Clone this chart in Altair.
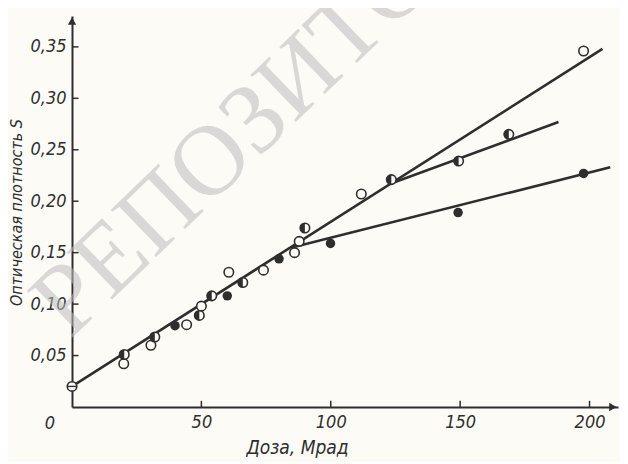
import altair as alt
import pandas as pd

# ---- data ----
open_x = [20, 30.5, 44.3, 50, 60.6, 74, 86, 87.8, 111.8, 197.7]
open_y = [0.042, 0.060, 0.080, 0.098, 0.131, 0.133, 0.150, 0.161, 0.207, 0.346]
half_x = [20.2, 32, 49.2, 54, 66, 90, 123.4, 149.4, 168.8]
half_y = [0.051, 0.068, 0.089, 0.108, 0.121, 0.174, 0.221, 0.239, 0.265]
filled_x = [39.8, 60, 80, 99.9, 149.2, 197.7]
filled_y = [0.079, 0.108, 0.144, 0.159, 0.189, 0.227]
cross_x = [0]
cross_y = [0.020]

line_seg = ["main", "main", "mid", "mid", "low", "low"]
line_x = [0, 205, 123, 188, 85, 208]
line_y = [0.020, 0.348, 0.217, 0.277, 0.155, 0.233]

x_ticks = [50, 100, 150, 200]
y_ticks = [0.05, 0.10, 0.15, 0.20, 0.25, 0.30, 0.35]

x_title = "Доза, Мрад"
y_title = "Оптическая плотность S"
watermark = "РЕПОЗИТОРИЙ"

# ---- style ----
INK = "#2e2e2e"
BG = "#fcfbf6"
FONT = "Liberation Sans Narrow, DejaVu Sans Condensed, sans-serif"
XMAX, YMAX = 211, 0.38

xs = alt.Scale(domain=[0, XMAX], nice=False, zero=False)
ys = alt.Scale(domain=[0, YMAX], nice=False, zero=False)

x_axis = alt.Axis(values=x_ticks, ticks=False, grid=False, domainColor=INK, domainWidth=2,
                  labelFont=FONT, labelFontStyle="italic", labelFontSize=18, labelColor=INK,
                  labelPadding=6, title=x_title, titleFont=FONT, titleFontStyle="italic",
                  titleFontWeight="normal", titleFontSize=19, titleColor=INK,
                  titleX=225, titleY=31, titleBaseline="top", titleAlign="center")
y_axis = alt.Axis(values=y_ticks, ticks=False, grid=False, domainColor=INK, domainWidth=2,
                  labelFont=FONT, labelFontStyle="italic", labelFontSize=18, labelColor=INK,
                  labelPadding=6,
                  labelExpr="replace(format(datum.value, '.2f'), '.', ',')",
                  title=y_title, titleFont=FONT, titleFontStyle="italic",
                  titleFontWeight="normal", titleFontSize=16, titleColor=INK,
                  titleX=-48, titleY=196, titleBaseline="bottom", titleAlign="center", titleAngle=270)

wm = alt.Chart(pd.DataFrame({"x": [-0.8], "y": [0.065], "t": [watermark]})).mark_text(
    font="Liberation Serif", fontSize=100, angle=316, align="left", baseline="alphabetic",
    color="#bdbdbd", opacity=0.55).encode(
    x=alt.X("x:Q", scale=xs, axis=x_axis), y=alt.Y("y:Q", scale=ys, axis=y_axis), text="t:N")

lines_df = pd.DataFrame({"seg": line_seg, "x": line_x, "y": line_y})
lines = alt.Chart(lines_df).mark_line(color=INK, strokeWidth=2.6).encode(
    x=alt.X("x:Q", scale=xs), y=alt.Y("y:Q", scale=ys), detail="seg:N")

yt_df = pd.DataFrame({"y": y_ticks, "x0": [0] * len(y_ticks), "x1": [2.5] * len(y_ticks)})
yt = alt.Chart(yt_df).mark_rule(color=INK, strokeWidth=1.5).encode(
    x=alt.X("x0:Q", scale=xs), x2="x1:Q", y=alt.Y("y:Q", scale=ys))
xt_df = pd.DataFrame({"x": x_ticks, "y0": [0] * len(x_ticks), "y1": [0.006] * len(x_ticks)})
xt = alt.Chart(xt_df).mark_rule(color=INK, strokeWidth=1.5).encode(
    x=alt.X("x:Q", scale=xs), y=alt.Y("y0:Q", scale=ys), y2="y1:Q")

arrows_df = pd.DataFrame({"x": [0, XMAX - 2], "y": [YMAX - 0.005, 0],
                          "s": ["triangle-up", "triangle-right"]})
arrows = alt.Chart(arrows_df).mark_point(filled=True, color=INK, size=70, opacity=1).encode(
    x=alt.X("x:Q", scale=xs), y=alt.Y("y:Q", scale=ys),
    shape=alt.Shape("s:N", scale=None))

zero = alt.Chart(pd.DataFrame({"x": [0], "y": [0], "t": ["0"]})).mark_text(
    font=FONT, fontStyle="italic", fontSize=18, color=INK, dx=-22, dy=17).encode(
    x=alt.X("x:Q", scale=xs), y=alt.Y("y:Q", scale=ys), text="t:N")

SIZE = 90
open_df = pd.DataFrame({"x": open_x + half_x + cross_x, "y": open_y + half_y + cross_y})
opens = alt.Chart(open_df).mark_point(shape="circle", filled=True, fill=BG, stroke=INK,
                                      strokeWidth=1.6, size=SIZE, opacity=1).encode(
    x=alt.X("x:Q", scale=xs), y=alt.Y("y:Q", scale=ys))

halves = alt.Chart(pd.DataFrame({"x": half_x, "y": half_y})).mark_point(
    shape="M0,-1A1,1,0,0,0,0,1Z", filled=True, color=INK, size=SIZE, opacity=1).encode(
    x=alt.X("x:Q", scale=xs), y=alt.Y("y:Q", scale=ys))

fills = alt.Chart(pd.DataFrame({"x": filled_x, "y": filled_y})).mark_point(
    shape="circle", filled=True, color=INK, size=SIZE, opacity=1).encode(
    x=alt.X("x:Q", scale=xs), y=alt.Y("y:Q", scale=ys))

cross = alt.Chart(pd.DataFrame({"x": cross_x, "y": cross_y})).mark_point(
    shape="M-1,0L1,0", filled=False, color=INK, strokeWidth=1.4, size=SIZE, opacity=1).encode(
    x=alt.X("x:Q", scale=xs), y=alt.Y("y:Q", scale=ys))

chart = alt.layer(wm, lines, yt, xt, arrows, zero, opens, halves, fills, cross).properties(
    width=546, height=391,
    autosize=alt.AutoSizeParams(type="none"),
    padding={"left": 64, "top": 8, "right": 2, "bottom": 55},
    background=BG,
).configure_view(stroke=None)

chart.save("out.html", embed_options={"renderer": "svg", "actions": False})
